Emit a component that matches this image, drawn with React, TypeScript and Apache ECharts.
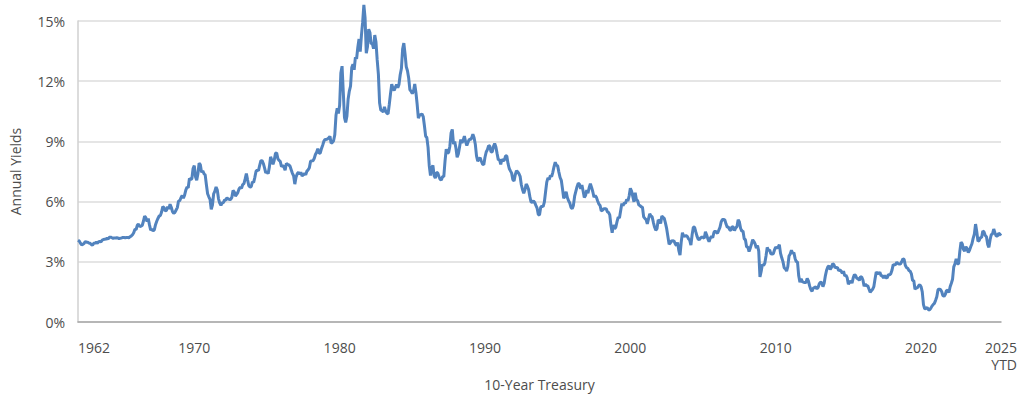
import React, { useEffect, useRef } from "react";
import * as echarts from "echarts";

// Monthly 10-Year Treasury yields (%), Jan 1962 – Jul 2025
const y1960s = [
  4.08, 4.04, 3.93, 3.84, 3.87, 3.91, 4.01, 3.98, 3.98, 3.93, 3.92, 3.86,
  3.83, 3.92, 3.93, 3.97, 3.93, 3.99, 4.02, 4.0, 4.08, 4.11, 4.12, 4.13,
  4.17, 4.15, 4.22, 4.23, 4.2, 4.17, 4.19, 4.19, 4.2, 4.19, 4.15, 4.18,
  4.19, 4.21, 4.21, 4.2, 4.21, 4.21, 4.2, 4.25, 4.29, 4.35, 4.45, 4.62,
  4.61, 4.83, 4.87, 4.75, 4.78, 4.81, 5.02, 5.28, 5.2, 5.01, 5.16, 4.84,
  4.58, 4.63, 4.54, 4.59, 4.85, 5.02, 5.16, 5.28, 5.3, 5.48, 5.75, 5.7,
  5.53, 5.56, 5.74, 5.64, 5.87, 5.72, 5.5, 5.42, 5.46, 5.58, 5.7, 6.03,
  6.04, 6.19, 6.3, 6.17, 6.32, 6.57, 6.72, 6.69, 7.16, 7.1, 7.14, 7.65,
];
const y1970s = [
  7.79, 7.24, 7.07, 7.39, 7.91, 7.84, 7.46, 7.53, 7.39, 7.33, 6.84, 6.39,
  6.24, 6.11, 5.62, 5.83, 6.39, 6.52, 6.73, 6.58, 6.14, 5.93, 5.81, 5.93,
  5.95, 6.08, 6.07, 6.19, 6.13, 6.11, 6.11, 6.21, 6.55, 6.48, 6.28, 6.36,
  6.46, 6.64, 6.71, 6.67, 6.85, 6.9, 7.13, 7.4, 7.09, 6.79, 6.73, 6.74,
  6.99, 6.96, 7.21, 7.51, 7.58, 7.54, 7.81, 8.04, 8.04, 7.9, 7.68, 7.43,
  7.5, 7.39, 7.73, 8.23, 8.06, 7.86, 8.06, 8.4, 8.43, 8.14, 8.05, 8.0,
  7.74, 7.79, 7.73, 7.56, 7.9, 7.86, 7.83, 7.77, 7.59, 7.41, 7.29, 6.87,
  7.21, 7.39, 7.46, 7.37, 7.46, 7.28, 7.33, 7.4, 7.34, 7.52, 7.58, 7.69,
  8.01, 8.03, 8.04, 8.15, 8.35, 8.46, 8.64, 8.41, 8.42, 8.64, 8.81, 9.01,
  9.1, 9.1, 9.12, 9.18, 9.25, 8.91, 8.95, 9.03, 9.33, 10.3, 10.65, 10.39,
];
const y1980s = [
  10.8, 12.41, 12.75, 11.47, 10.18, 9.95, 10.25, 11.1, 11.51, 11.75, 12.68, 12.84,
  12.57, 13.19, 13.12, 13.68, 14.1, 13.47, 14.28, 14.94, 15.8, 15.15, 13.39, 13.72,
  14.59, 14.43, 13.86, 13.87, 13.62, 14.3, 13.95, 13.06, 12.34, 10.91, 10.55, 10.54,
  10.46, 10.72, 10.51, 10.4, 10.38, 10.85, 11.38, 11.85, 11.65, 11.54, 11.69, 11.83,
  11.67, 11.84, 12.32, 12.63, 13.6, 13.9, 13.36, 12.72, 12.52, 12.16, 11.57, 11.5,
  11.38, 11.51, 11.86, 11.43, 10.85, 10.16, 10.31, 10.33, 10.37, 10.24, 9.78, 9.26,
  9.19, 8.7, 7.78, 7.3, 7.71, 7.8, 7.3, 7.17, 7.45, 7.43, 7.25, 7.11,
  7.08, 7.25, 7.25, 8.02, 8.61, 8.4, 8.45, 8.76, 9.42, 9.6, 8.86, 8.99,
  8.67, 8.21, 8.37, 8.72, 9.09, 8.92, 9.06, 9.26, 8.98, 8.8, 8.96, 9.11,
  9.09, 9.17, 9.36, 9.18, 8.86, 8.28, 8.02, 8.11, 8.19, 8.01, 7.87, 7.84,
];
const y1990s = [
  8.21, 8.47, 8.59, 8.79, 8.76, 8.48, 8.47, 8.75, 8.89, 8.72, 8.39, 8.08,
  8.09, 7.85, 8.11, 8.04, 8.07, 8.28, 8.27, 7.9, 7.65, 7.53, 7.42, 7.09,
  7.03, 7.34, 7.54, 7.48, 7.39, 7.26, 6.84, 6.59, 6.42, 6.59, 6.87, 6.77,
  6.6, 6.26, 5.98, 5.97, 6.04, 5.96, 5.81, 5.68, 5.36, 5.33, 5.72, 5.77,
  5.75, 5.97, 6.48, 6.97, 7.18, 7.1, 7.3, 7.24, 7.46, 7.74, 7.96, 7.81,
  7.78, 7.47, 7.2, 7.06, 6.63, 6.17, 6.28, 6.49, 6.2, 6.04, 5.93, 5.71,
  5.65, 5.81, 6.27, 6.51, 6.74, 6.91, 6.87, 6.64, 6.83, 6.53, 6.2, 6.3,
  6.58, 6.42, 6.69, 6.89, 6.71, 6.49, 6.22, 6.3, 6.21, 6.03, 5.88, 5.81,
  5.54, 5.57, 5.65, 5.64, 5.65, 5.5, 5.46, 5.34, 4.81, 4.45, 4.83, 4.65,
  4.72, 5.0, 5.23, 5.18, 5.54, 5.9, 5.79, 5.94, 5.92, 6.11, 6.03, 6.28,
];
const y2000s = [
  6.66, 6.52, 6.26, 5.99, 6.44, 6.1, 6.05, 5.83, 5.8, 5.74, 5.72, 5.24,
  5.16, 5.1, 4.89, 5.14, 5.39, 5.28, 5.24, 4.97, 4.73, 4.57, 4.65, 5.09,
  5.04, 4.91, 5.28, 5.21, 5.16, 4.93, 4.65, 4.26, 3.87, 3.94, 4.05, 4.03,
  4.05, 3.9, 3.81, 3.96, 3.57, 3.33, 3.98, 4.45, 4.27, 4.29, 4.3, 4.27,
  4.15, 4.08, 3.83, 4.35, 4.72, 4.73, 4.5, 4.28, 4.13, 4.1, 4.19, 4.23,
  4.22, 4.17, 4.5, 4.34, 4.14, 4.0, 4.18, 4.26, 4.2, 4.46, 4.54, 4.47,
  4.42, 4.57, 4.72, 4.99, 5.11, 5.11, 5.09, 4.88, 4.72, 4.73, 4.6, 4.56,
  4.76, 4.72, 4.56, 4.69, 4.75, 5.1, 5.0, 4.67, 4.52, 4.53, 4.15, 4.1,
  3.74, 3.74, 3.51, 3.68, 3.88, 4.1, 4.01, 3.89, 3.69, 3.81, 3.53, 2.25,
  2.52, 2.87, 2.82, 2.93, 3.29, 3.72, 3.56, 3.59, 3.4, 3.39, 3.4, 3.59,
];
const y2010s = [
  3.73, 3.69, 3.73, 3.85, 3.42, 3.2, 3.01, 2.7, 2.65, 2.54, 2.76, 3.29,
  3.39, 3.58, 3.41, 3.46, 3.17, 3.0, 3.0, 2.3, 1.98, 2.15, 2.01, 1.98,
  1.97, 1.97, 2.17, 2.05, 1.8, 1.62, 1.53, 1.68, 1.72, 1.75, 1.65, 1.72,
  1.91, 1.98, 1.96, 1.76, 1.93, 2.3, 2.58, 2.74, 2.81, 2.62, 2.72, 2.9,
  2.86, 2.71, 2.72, 2.71, 2.56, 2.6, 2.54, 2.42, 2.53, 2.3, 2.33, 2.21,
  1.88, 1.98, 2.04, 1.94, 2.2, 2.36, 2.32, 2.17, 2.17, 2.07, 2.26, 2.24,
  2.09, 1.78, 1.89, 1.81, 1.81, 1.64, 1.48, 1.56, 1.63, 1.76, 2.14, 2.49,
  2.43, 2.42, 2.48, 2.3, 2.3, 2.19, 2.32, 2.21, 2.2, 2.36, 2.35, 2.4,
  2.58, 2.86, 2.84, 2.87, 2.98, 2.91, 2.89, 2.89, 3.0, 3.15, 3.12, 2.83,
  2.71, 2.68, 2.57, 2.53, 2.4, 2.07, 2.06, 1.63, 1.7, 1.71, 1.81, 1.86,
];
const y2020s = [
  1.76, 1.5, 0.87, 0.66, 0.67, 0.73, 0.62, 0.6, 0.68, 0.79, 0.87, 0.93,
  1.08, 1.26, 1.61, 1.64, 1.62, 1.52, 1.32, 1.28, 1.37, 1.58, 1.56, 1.47,
  1.76, 1.93, 2.13, 2.75, 2.9, 3.14, 2.9, 2.9, 3.52, 3.98, 3.89, 3.62,
  3.53, 3.75, 3.66, 3.46, 3.57, 3.75, 3.9, 4.17, 4.38, 4.88, 4.5, 4.02,
  4.06, 4.21, 4.21, 4.54, 4.48, 4.31, 4.25, 3.87, 3.72, 4.1, 4.36, 4.39,
  4.63, 4.45, 4.28, 4.28, 4.42, 4.38, 4.3,
];

const startYear = 1962;
const tickYears = [1962, 1970, 1980, 1990, 2000, 2010, 2020];
const lastLabel = ["2025", "YTD"];
const yTicks = [0, 3, 6, 9, 12, 15];

const yields = [...y1960s, ...y1970s, ...y1980s, ...y1990s, ...y2000s, ...y2010s, ...y2020s];
const months = yields.map((_, i) => {
  const yr = startYear + Math.floor(i / 12);
  const m = (i % 12) + 1;
  return `${yr}-${m < 10 ? "0" + m : m}`;
});
const labelIndex: Record<number, string> = {};
tickYears.forEach((yr) => {
  labelIndex[(yr - startYear) * 12] = String(yr);
});
labelIndex[months.length - 1] = `{a|${lastLabel[0]}}\n{a|${lastLabel[1]}}`;

const FONT = "'Open Sans', sans-serif";
const TEXT = "#4d4d4d";

export default function App() {
  const ref = useRef<HTMLDivElement>(null);
  useEffect(() => {
    if (!ref.current) return;
    const chart = echarts.init(ref.current, null, { renderer: "svg" });
    chart.setOption({
      animation: false,
      backgroundColor: "#ffffff",
      grid: { left: 78, right: 23, top: 21, bottom: 77 },
      xAxis: {
        type: "category",
        data: months,
        boundaryGap: false,
        name: "10-Year Treasury",
        nameLocation: "middle",
        nameGap: 53,
        nameTextStyle: { color: TEXT, fontSize: 14, fontFamily: FONT },
        axisLine: { lineStyle: { color: "#a6a6a6", width: 1.5 } },
        axisTick: { show: false },
        splitLine: { show: false },
        axisLabel: {
          interval: (index: number) => labelIndex[index] !== undefined,
          formatter: (_v: string, index: number) => labelIndex[index] ?? "",
          color: TEXT,
          fontSize: 14,
          fontFamily: FONT,
          margin: 17,
          lineHeight: 17,
          alignMinLabel: "left",
          rich: { a: { align: "right", color: TEXT, fontSize: 14, fontFamily: FONT, lineHeight: 17 } },
        },
      },
      yAxis: {
        type: "value",
        min: yTicks[0],
        max: yTicks[yTicks.length - 1],
        interval: 3,
        name: "Annual Yields",
        nameLocation: "middle",
        nameGap: 56,
        nameTextStyle: { color: TEXT, fontSize: 14, fontFamily: FONT },
        axisLine: { show: true, lineStyle: { color: "#d0d0d0", width: 1.5 } },
        axisTick: { show: false },
        splitLine: { lineStyle: { color: "#dcdcdc", width: 1.5 } },
        axisLabel: {
          formatter: "{value}%",
          color: TEXT,
          fontSize: 14,
          fontFamily: FONT,
          margin: 13,
        },
      },
      series: [
        {
          type: "line",
          data: yields,
          clip: false,
          showSymbol: false,
          symbol: "none",
          lineStyle: { color: "#5283be", width: 3 },
          itemStyle: { color: "#5283be" },
        },
      ],
    });
    return () => chart.dispose();
  }, []);
  return <div ref={ref} style={{ width: 1024, height: 399, position: "absolute", left: 0, top: 0 }} />;
}
